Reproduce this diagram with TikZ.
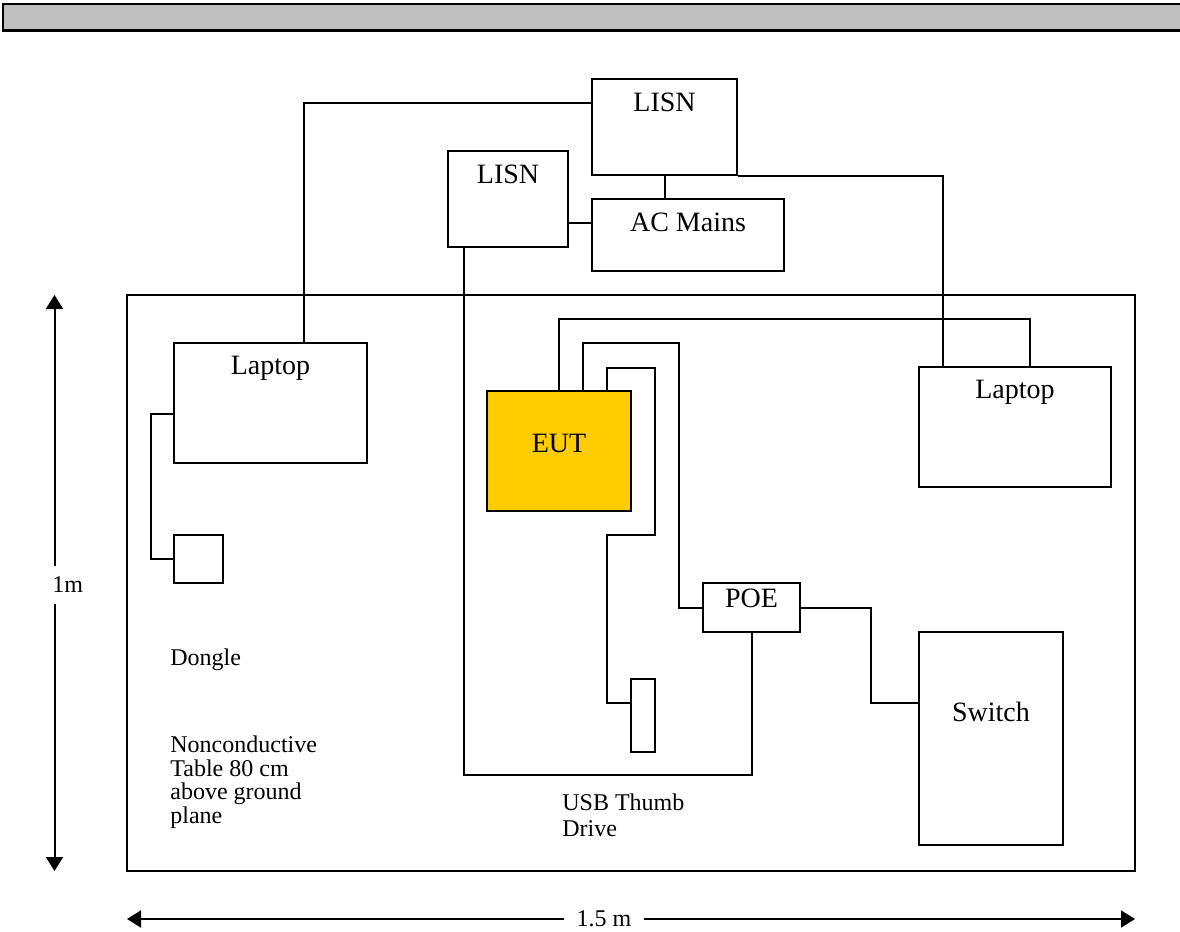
\documentclass[tikz,border=0pt]{standalone}
\usepackage{fontspec}
\setmainfont{Liberation Serif}
\usepackage{tikz}
\usetikzlibrary{arrows.meta,fit}
\definecolor{eutyellow}{RGB}{255,204,0}
\definecolor{bargray}{RGB}{192,192,192}

\begin{document}
\begin{tikzpicture}[
  x=0.5pt, y=-0.5pt,
  font=\fontsize{14}{16}\selectfont,
  unit/.style={draw,line width=1pt,inner sep=0pt,fit={#1}},
  tag/.style={anchor=north,inner sep=0pt,yshift=#1},
  tag/.default=-7.5pt,
  small/.style={font=\fontsize{12}{11.75}\selectfont,align=left,anchor=west,inner sep=0pt},
  bar/.style={fill=bargray,draw=black,line width=0.6pt,inner sep=0pt},
  cable/.style={line width=1pt},
  dim/.style={-{Triangle[length=7pt,width=8.5pt]},line width=1pt}
]
\useasboundingbox (0,0) rectangle (1180,932);
\node[bar,fit={(3,4)(1190,30)}] (bar) {};
\draw[line width=1.3pt] (bar.south west) -- (bar.south east);

\node[unit={(592,79)(737,175)},label={[tag]north:LISN}] (lisnA) {};
\node[unit={(448,151)(568,247)},label={[tag]north:LISN}] (lisnB) {};
\node[unit={(592,199)(784,271)},label={[tag]north:AC Mains}] (mains) {};
\node[unit={(127,295)(1135,871)}] (table) {};
\node[unit={(174,343)(367,463)},label={[tag=-6.7pt]north:Laptop}] (lapL) {};
\node[unit={(919,367)(1111,487)},label={[tag=-6.7pt]north:Laptop}] (lapR) {};
\node[unit={(174,535)(223,583)}] (dongle) {};
\node[unit={(487,391)(631,511)},fill=eutyellow,label={[tag=-22pt]north:EUT}] (eut) {};
\node[unit={(703,583)(800,632)}] (poe) {POE};
\node[unit={(631,679)(655,752)}] (usb) {};
\node[unit={(919,632)(1063,845)},label={[tag=-35.5pt]north:Switch}] (switch) {};

\node[small] (dongleTxt) at (170,660) {Dongle};
\node[small] (tableTxt) at (170,782) {Nonconductive\\Table 80 cm\\above ground\\plane};
\node[small,font=\fontsize{12}{13}\selectfont] (usbTxt) at (562,815) {USB Thumb\\Drive};

\draw[cable] (lapL.north -| 304,0) |- (lisnA.west |- 0,103);
\draw[cable] (lisnA.south east) -| (lapR.north -| 943,0);
\draw[cable] (lisnA.south) -- (lisnA.south |- mains.north);
\draw[cable] (lisnB.east |- 0,223) -- (mains.west |- 0,223);
\draw[cable] (lisnB.south -| 464,0) |- (poe.south |- 0,775) -- (poe.south);
\draw[cable] (eut.north -| 559,0) |- (1030,319) -- (lapR.north -| 1030,0);
\draw[cable] (eut.north -| 583,0) |- (679,343) |- (poe.west);
\draw[cable] (eut.north -| 607,0) |- (655,368) |- (607,535) |- (usb.west |- 0,703);
\draw[cable] (poe.east) -| (871,703) -- (switch.west |- 0,703);
\draw[cable] (lapL.west |- 0,414) -| (dongle.west -| 151,0) -- (dongle.west);

\coordinate (vTop) at (54.5,295);
\coordinate (vBot) at (54.5,871);
\node[small,minimum height=18.5pt] (htTxt) at (52,585) {1m};
\draw[dim] (vTop |- htTxt.north) -- (vTop);
\draw[dim] (vTop |- htTxt.south) -- (vBot);

\coordinate (hL) at (127,919);
\coordinate (hR) at (1135,919);
\node[small,anchor=center,inner xsep=6pt] (wdTxt) at (604,919) {1.5 m};
\draw[dim] (wdTxt.west) -- (hL);
\draw[dim] (wdTxt.east) -- (hR);
\end{tikzpicture}
\end{document}
